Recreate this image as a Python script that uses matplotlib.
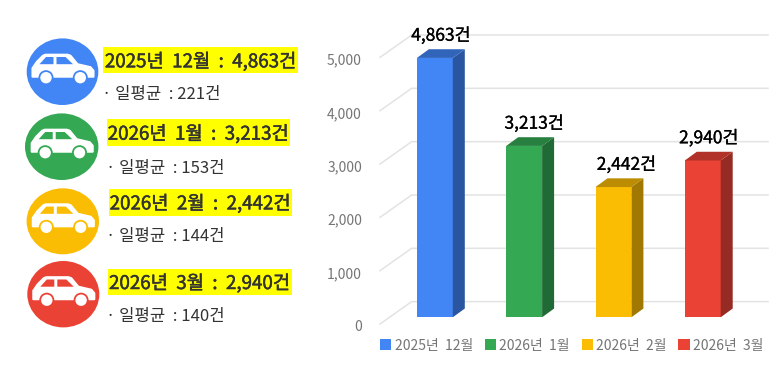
import matplotlib
matplotlib.use('Agg')
import matplotlib.pyplot as plt
from matplotlib.patches import Ellipse, Polygon, Rectangle
import matplotlib.patheffects as pe
import numpy as np

plt.rcParams['font.family'] = ['Noto Sans CJK KR', 'DejaVu Sans']

months = ['2025년 12월', '2026년 1월', '2026년 2월', '2026년 3월']
counts = [4863, 3213, 2442, 2940]
daily_avg = [221, 153, 144, 140]
colors = ['#4285F4', '#34A853', '#FBBC04', '#EA4335']
top_colors = ['#3165BA', '#27803F', '#BC8D03', '#B03228']
side_colors = ['#2A55A0', '#206B35', '#A07802', '#952B22']
y_ticks = [0, 1000, 2000, 3000, 4000, 5000]

W, H = 780, 366
PX_PER_UNIT = 53.2 / 1000
BAR_STEP = 89.3

fig = plt.figure(figsize=(W / 100, H / 100), dpi=100)

# left panel is laid out in pixels
left = fig.add_axes([0, 0, 1, 1])
left.set_xlim(0, W)
left.set_ylim(H, 0)
left.axis('off')

circles = [(62.5, 71.7, 35.8, 33.3), (61.7, 146.7, 36.7, 33.3),
           (62.8, 221.3, 36.2, 33.0), (63.3, 294.2, 36.0, 33.2)]
boxes = [(103.3, 47.3, 195, 26), (106.7, 119.3, 183.3, 26.7),
         (109, 189, 183, 26.7), (107.7, 269, 184, 26)]
sub_pos = [(102, 94), (106, 169), (106, 237), (106, 316)]


def draw_car(cx, cy, color):
    # outline relative to the circle centre
    body = [(-30, 5), (-30, -3.5), (-25.5, -10), (-19.5, -16), (-17, -17), (5, -17), (8, -16),
            (15, -7.5), (28, -4.5), (31, -1), (31, 5)]
    left.add_patch(Polygon([(cx + x, cy + y) for x, y in body], fc='white', ec='white',
                           lw=1.5, joinstyle='round', zorder=3))
    for wx in (-16.5, 17.8):
        left.add_patch(Ellipse((cx + wx, cy + 6), 15, 15, fc=color, ec='none', zorder=4))
        left.add_patch(Ellipse((cx + wx, cy + 6), 11.4, 11.4, fc='white', ec='none', zorder=5))
    win1 = [(-23, -7.5), (-16.5, -14.7), (-9, -14.7), (-9, -7.5)]
    win2 = [(-6, -14.7), (3, -14.7), (10.5, -7.5), (-6, -7.5)]
    for w in (win1, win2):
        left.add_patch(Polygon([(cx + x, cy + y) for x, y in w], fc=color, ec='none', zorder=4))


for i in range(4):
    cx, cy, rx, ry = circles[i]
    left.add_patch(Ellipse((cx, cy), rx * 2, ry * 2, fc=colors[i], ec='none'))
    draw_car(cx, cy, colors[i])
    bx, by, bw, bh = boxes[i]
    left.add_patch(Rectangle((bx, by), bw, bh, fc='#FFFF00', ec='none'))
    head = months[i].replace(' ', '  ') + f'  :  {counts[i]:,}건'
    t = left.text(bx + bw / 2, by + bh / 2 + 1.5, head, fontsize=13.5,
                  color='#333333', ha='center', va='center')
    t.set_path_effects([pe.withStroke(linewidth=0.35, foreground='#333333')])
    left.text(sub_pos[i][0], sub_pos[i][1], f'· 일평균  : {daily_avg[i]}건', fontsize=12,
              color='#333333', ha='left', va='center')

# chart axes, y scale lives on the plane of the bar fronts
ax = fig.add_axes([380 / W, 1 - 332 / H, 388 / W, 297 / H])
ax.patch.set_alpha(0)
back_shift = 15.6 / PX_PER_UNIT
front_shift = -6.7 / PX_PER_UNIT
label_shift = -8.5 / PX_PER_UNIT
ax.set_ylim(-14.7 / PX_PER_UNIT, 5000 + back_shift)
ax.set_xlim((380 - 434.85) / BAR_STEP, (768 - 434.85) / BAR_STEP)
for s in ax.spines.values():
    s.set_visible(False)

depth_x = 12 / BAR_STEP
depth_y = 8.7 / PX_PER_UNIT
back_x = (411.7 - 380) / BAR_STEP
x0 = ax.get_xlim()[0]
x1 = ax.get_xlim()[1]
for v in y_ticks:
    ax.plot([x0, x0 + back_x, x1], [v + front_shift, v + back_shift, v + back_shift],
            color='#E3E3E3', lw=1.1, zorder=1, clip_on=False)

x = np.arange(4)
bar_w = 35.9 / BAR_STEP
label_dx = [0, 4, 7, 0]
bars = ax.bar(x, counts, width=bar_w, color=colors, zorder=3)
for i, b in enumerate(bars):
    b.set_label(months[i].replace(' ', '  '))
    l, r, t = x[i] - bar_w / 2, x[i] + bar_w / 2, counts[i]
    ax.add_patch(Polygon([(r, 0), (r + depth_x, depth_y), (r + depth_x, t + depth_y), (r, t)],
                         fc=side_colors[i], ec='none', zorder=3))
    ax.add_patch(Polygon([(l, t), (l + depth_x, t + depth_y), (r + depth_x, t + depth_y), (r, t)],
                         fc=top_colors[i], ec='none', zorder=3))
    lab = ax.text(x[i] + (depth_x * BAR_STEP / 2 + label_dx[i]) / BAR_STEP, t + depth_y + 4.5 / PX_PER_UNIT,
                  f'{counts[i]:,}건', fontsize=12.5,
                  color='black', ha='center', va='bottom', zorder=5)
    lab.set_path_effects([pe.withStroke(linewidth=0.2, foreground='black')])

ax.set_xticks([])
ax.set_yticks([v + label_shift for v in y_ticks], labels=[f'{v:,}' for v in y_ticks])
ax.tick_params(axis='y', length=0, pad=13, labelsize=10, labelcolor='#757575')

ax.legend(handles=list(bars), loc='upper left', bbox_to_anchor=(0, -0.022), ncol=4, frameon=False,
          fontsize=10, labelcolor='#757575', handlelength=0.8, handleheight=0.8, handletextpad=0.25,
          columnspacing=0.85, borderpad=0, borderaxespad=0)

fig.savefig('out.png', dpi=100)
